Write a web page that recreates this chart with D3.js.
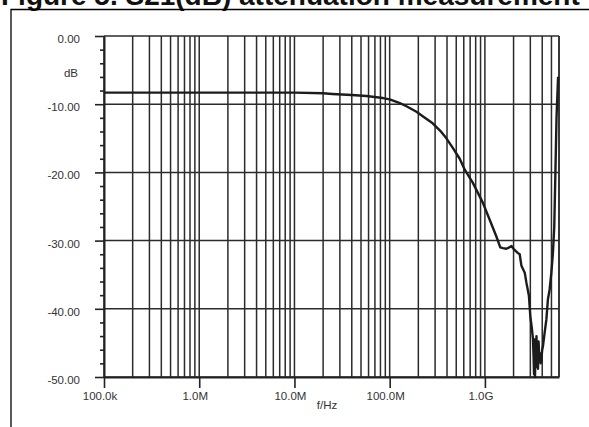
<!DOCTYPE html>
<html>
<head>
<meta charset="utf-8">
<script src="https://cdn.jsdelivr.net/npm/d3@7"></script>
<style>
  body { margin: 0; background: #fff; }
  svg { display: block; font-family: "Liberation Sans", Arial, sans-serif; }
  .grid line { stroke: #2b2b2b; stroke-width: 1.5; }
  .lbl { font-size: 11.5px; fill: #333; }
</style>
</head>
<body>
<div id="chart"></div>
<script>
// S21 attenuation (f in Hz, value in dB)
const freq = [
  1e5, 1e6, 1e7, 2e7, 2.5e7, 4e7, 5.7e7, 8.5e7, 1e8, 1.28e8, 1.5e8, 1.91e8, 2.3e8, 2.83e8,
  3.4e8, 3.94e8, 4.6e8, 5.44e8, 6.14e8, 7.45e8, 9.48e8, 1.12e9, 1.32e9, 1.45e9, 1.55e9,
  1.68e9, 1.8e9, 1.9e9, 2.0e9, 2.1e9, 2.21e9, 2.32e9, 2.42e9, 2.62e9, 2.73e9, 2.9e9, 3.0e9,
  3.12e9, 3.2e9, 3.25e9, 3.28e9, 3.32e9, 3.36e9, 3.4e9, 3.44e9, 3.48e9, 3.52e9, 3.56e9,
  3.61e9, 3.66e9, 3.72e9, 3.78e9, 3.85e9, 3.92e9, 4.0e9, 4.07e9, 4.24e9, 4.42e9, 4.59e9,
  4.78e9, 4.99e9, 5.18e9, 5.35e9, 5.5e9, 5.65e9, 5.87e9
];
const s21 = [
  -8.3, -8.3, -8.3, -8.4, -8.5, -8.65, -8.8, -9.1, -9.3, -9.85, -10.3, -11.1, -11.9, -12.8,
  -13.9, -15.0, -16.4, -18.0, -19.6, -21.5, -24.4, -26.9, -29.4, -31.0, -31.1,
  -31.2, -31.0, -30.8, -31.2, -31.5, -31.8, -32.0, -33.7, -34.7, -36.2, -38.1, -41.1,
  -43.0, -44.5, -47.4, -49.6, -44.5, -50.0, -45.0, -48.5, -44.0, -47.5, -45.5,
  -48.8, -44.8, -47.0, -46.5, -48.0, -47.4, -46.0, -45.5, -43.5, -41.6, -38.6,
  -37.2, -34.7, -31.8, -28.0, -20.0, -12.0, -6.0
];

const decades = [1e5, 1e6, 1e7, 1e8, 1e9];
const decadeLabels = ['100.0k', '1.0M', '10.0M', '100.0M', '1.0G'];
const yMajor = [0, -10, -20, -30, -40, -50];
const yLabels = ['0.00', '-10.00', '-20.00', '-30.00', '-40.00', '-50.00'];

const width = 589, height = 427;
const margin = {left: 104, right: 30, top: 36, bottom: 50};

const svg = d3.select('#chart').append('svg')
  .attr('width', width)
  .attr('height', height);

const x = d3.scaleLog().domain([1e5, 6e9]).range([margin.left, width - margin.right]);
const y = d3.scaleLinear().domain([-50, 0]).range([height - margin.bottom, margin.top]);

// title (clipped at the top, as in the source)
svg.append('text')
  .attr('x', 1).attr('y', 5)
  .style('font-size', '28px').style('font-weight', 'bold').style('fill', '#111')
  .text('Figure 5. S21(dB) attenuation measurement');

// figure frame
svg.append('path')
  .attr('d', `M11,${height}V9.5H${width}`)
  .attr('fill', 'none').attr('stroke', '#000').attr('stroke-width', 1.3);

// vertical grid: 1..9 per decade, up to 6G
const vgrid = [];
decades.forEach(d => { for (let k = 1; k <= 9; k++) if (d * k <= 6e9) vgrid.push(d * k); });
vgrid.push(6e9);

const g = svg.append('g').attr('class', 'grid');
g.selectAll('line.v').data(vgrid).enter().append('line')
  .attr('x1', d => x(d)).attr('x2', d => x(d))
  .attr('y1', y(0)).attr('y2', y(-50));
g.selectAll('line.h').data(yMajor).enter().append('line')
  .attr('x1', x(1e5)).attr('x2', x(6e9))
  .attr('y1', d => y(d)).attr('y2', d => y(d));

// y axis with minor ticks every 2 dB
const yAxis = d3.axisLeft(y)
  .tickValues(d3.range(-50, 1, 2))
  .tickSize(0).tickFormat('');
const ya = svg.append('g').attr('transform', `translate(${margin.left},0)`).call(yAxis);
ya.select('.domain').attr('stroke', '#222').attr('stroke-width', 2);
ya.selectAll('.tick line')
  .attr('stroke', '#222').attr('stroke-width', 1.6)
  .attr('x2', d => (d % 10 === 0 ? -9 : -4));

// x axis ticks at decades
const xAxis = d3.axisBottom(x).tickValues(decades)
  .tickSizeInner(11).tickSizeOuter(0).tickFormat('');
const xa = svg.append('g').attr('transform', `translate(0,${y(-50)})`).call(xAxis);
xa.select('.domain').attr('stroke', '#222').attr('stroke-width', 2);
xa.selectAll('.tick line').attr('stroke', '#222').attr('stroke-width', 1.6);

// tick labels
svg.selectAll('text.yl').data(yMajor).enter().append('text')
  .attr('class', 'lbl').attr('text-anchor', 'end')
  .attr('x', 80).attr('y', d => y(d) + 7)
  .text((d, i) => yLabels[i]);
svg.selectAll('text.xl').data(decades).enter().append('text')
  .attr('class', 'lbl').attr('text-anchor', 'middle')
  .attr('x', d => x(d) - 4).attr('y', 400)
  .text((d, i) => decadeLabels[i]);

svg.append('text').attr('class', 'lbl').attr('text-anchor', 'middle')
  .attr('x', 71).attr('y', 76.5).text('dB');
svg.append('text').attr('class', 'lbl').attr('text-anchor', 'middle')
  .attr('x', 327).attr('y', 409).text('f/Hz');

// measurement curve
const line = d3.line()
  .x((d, i) => x(freq[i]))
  .y(d => y(d));

svg.append('path')
  .datum(s21)
  .attr('d', line)
  .attr('fill', 'none')
  .attr('stroke', '#1c1c1c')
  .attr('stroke-width', 2.4)
  .attr('stroke-linejoin', 'round');
</script>
</body>
</html>
